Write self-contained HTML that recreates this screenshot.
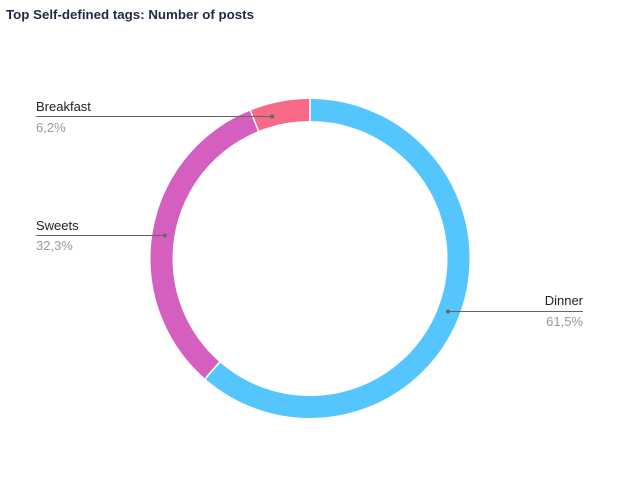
<!DOCTYPE html>
<html><head><style>
body{margin:0;background:#fff;width:622px;height:492px;overflow:hidden;font-family:"Liberation Sans",sans-serif;}
</style></head><body>
<svg width="622" height="492" xmlns="http://www.w3.org/2000/svg" font-family="Liberation Sans, sans-serif">
<text x="6" y="19" font-size="13.3" font-weight="bold" fill="#1e2a46">Top Self-defined tags: Number of posts</text>
<g transform="translate(310,258.5) rotate(-90)" fill="none" stroke-width="22">
<circle r="148.5" stroke="#55c6fd" stroke-dasharray="573.8 933.05" stroke-dashoffset="0"/>
<circle r="148.5" stroke="#d55fbf" stroke-dasharray="301.4 933.05" stroke-dashoffset="-573.8"/>
<circle r="148.5" stroke="#f76a87" stroke-dasharray="57.85 933.05" stroke-dashoffset="-875.2"/>
</g>
<g stroke="#fff" stroke-width="1.5">
<line x1="310" y1="98" x2="310" y2="122"/>
<line x1="205.5" y1="378.5" x2="220" y2="361.8"/>
<line x1="250.3" y1="110.5" x2="258.5" y2="131"/>
</g>
<g stroke="#666" stroke-width="1">
<line x1="36" y1="116.5" x2="272" y2="116.5"/>
<line x1="36" y1="235.5" x2="165" y2="235.5"/>
<line x1="448" y1="311.5" x2="583" y2="311.5"/>
</g>
<g fill="#666"><circle cx="272" cy="116.5" r="2"/><circle cx="165" cy="235.5" r="2"/><circle cx="448" cy="311.5" r="2"/></g>
<g font-size="13">
<text x="36" y="111" fill="#222">Breakfast</text>
<text x="36" y="132" fill="#999">6,2%</text>
<text x="36" y="230" fill="#222">Sweets</text>
<text x="36" y="250" fill="#999">32,3%</text>
<text x="583" y="305" fill="#222" text-anchor="end">Dinner</text>
<text x="583" y="326" fill="#999" text-anchor="end">61,5%</text>
</g>
</svg>
</body></html>
